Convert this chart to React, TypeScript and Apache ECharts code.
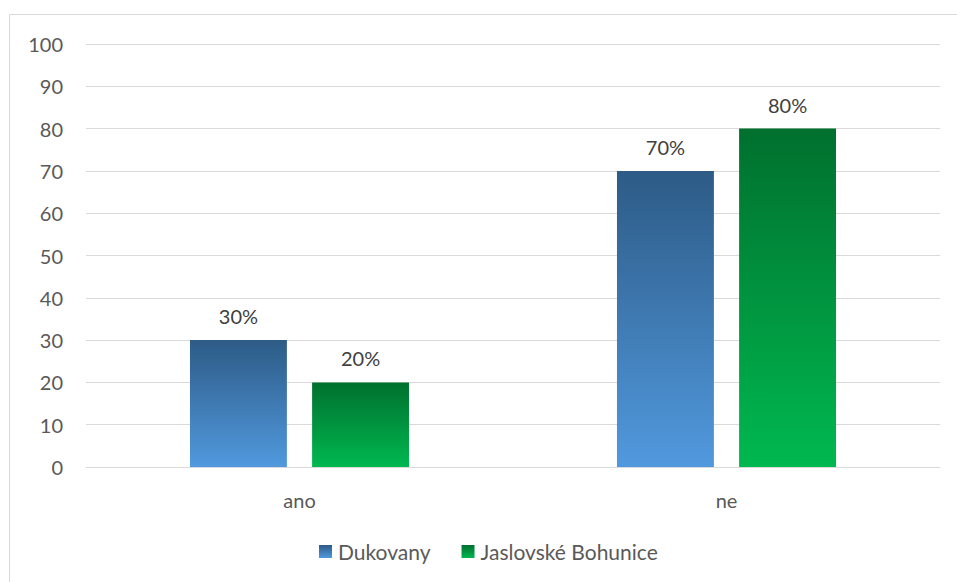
import React, { useEffect, useRef } from "react";
import * as echarts from "echarts";

const categories = ["ano", "ne"];
const dukovany = [30, 70];
const bohunice = [20, 80];
const seriesNames = ["Dukovany", "Jaslovské Bohunice"];

const FONT = "Lato, 'Open Sans', sans-serif";

export default function App() {
  const ref = useRef<HTMLDivElement>(null);
  useEffect(() => {
    if (!ref.current) return;
    const chart = echarts.init(ref.current, undefined, { renderer: "svg" });
    const blue = new echarts.graphic.LinearGradient(0, 0, 0, 1, [
      { offset: 0, color: "#2D5B86" },
      { offset: 1, color: "#5199DE" },
    ]);
    const green = new echarts.graphic.LinearGradient(0, 0, 0, 1, [
      { offset: 0, color: "#00702E" },
      { offset: 1, color: "#00B850" },
    ]);
    const label = {
      show: true,
      position: "top" as const,
      distance: 14,
      formatter: (p: any) => p.value + "%",
      color: "#404040",
      fontSize: 20,
      fontFamily: FONT,
    };
    chart.setOption({
      animation: false,
      backgroundColor: "#ffffff",
      textStyle: { fontFamily: FONT },
      graphic: [
        {
          type: "rect",
          shape: { x: 9.5, y: 14.5, width: 1000, height: 1000 },
          style: { fill: "none", stroke: "#D9D9D9", lineWidth: 1 },
          silent: true,
        },
      ],
      grid: { left: 86, right: 17, top: 44, bottom: 115 },
      legend: {
        left: 319,
        top: 541,
        padding: 0,
        itemWidth: 13,
        itemHeight: 13,
        itemGap: 31,
        textStyle: { color: "#595959", fontSize: 21, fontFamily: FONT, padding: [0, 0, 0, 1] },
        data: [
          { name: seriesNames[0], icon: "rect" },
          { name: seriesNames[1], icon: "rect" },
        ],
      },
      xAxis: {
        type: "category",
        data: categories,
        axisLine: { lineStyle: { color: "#D9D9D9", width: 1 } },
        axisTick: { show: false },
        axisLabel: { color: "#595959", fontSize: 20, fontFamily: FONT, margin: 23 },
      },
      yAxis: {
        type: "value",
        min: 0,
        max: 100,
        interval: 10,
        axisLine: { show: false },
        axisTick: { show: false },
        splitLine: { lineStyle: { color: "#D9D9D9", width: 1 } },
        axisLabel: { color: "#595959", fontSize: 20, fontFamily: FONT, margin: 23 },
      },
      series: [
        {
          name: seriesNames[0],
          type: "bar",
          data: dukovany,
          barWidth: "22.7%",
          barGap: "26%",
          itemStyle: { color: blue },
          label,
        },
        {
          name: seriesNames[1],
          type: "bar",
          data: bohunice,
          barWidth: "22.7%",
          itemStyle: { color: green },
          label,
        },
      ],
    });
    return () => chart.dispose();
  }, []);
  return (
    <div
      ref={ref}
      style={{ position: "absolute", left: 0, top: 0, width: 957, height: 582 }}
    />
  );
}
